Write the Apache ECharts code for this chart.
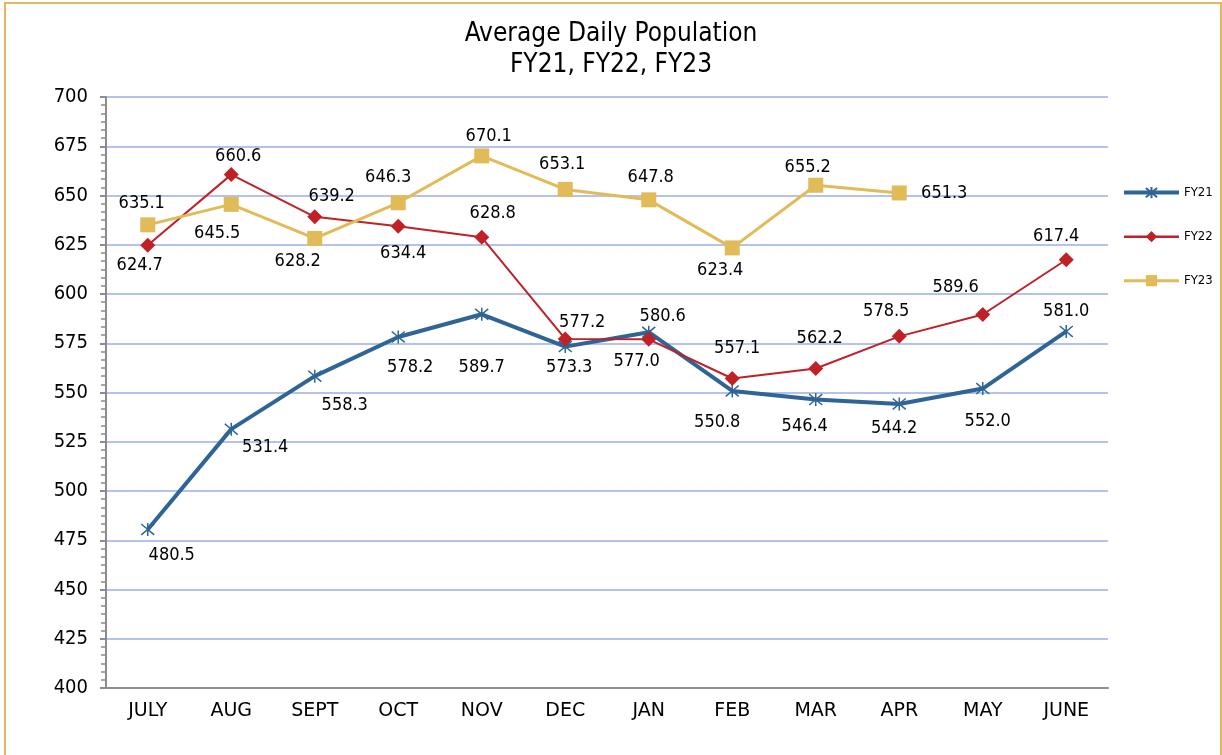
<!DOCTYPE html>
<html>
<head>
    <meta charset="utf-8">
    <title>Average Daily Population</title>
    <script src="https://cdn.jsdelivr.net/npm/echarts@6/dist/echarts.min.js"></script>
    <style>
        html, body { margin: 0; padding: 0; background: #fff; }
        #chart1 { width: 1222px; height: 755px; }
    </style>
</head>
<body>
<div id="chart1"></div>
<script type="text/javascript">
    // data
    var months = ['JULY', 'AUG', 'SEPT', 'OCT', 'NOV', 'DEC', 'JAN', 'FEB', 'MAR', 'APR', 'MAY', 'JUNE'];
    var fy21 = [480.5, 531.4, 558.3, 578.2, 589.7, 573.3, 580.6, 550.8, 546.4, 544.2, 552.0, 581.0];
    var fy22 = [624.7, 660.6, 639.2, 634.4, 628.8, 577.2, 577.0, 557.1, 562.2, 578.5, 589.6, 617.4];
    var fy23 = [635.1, 645.5, 628.2, 646.3, 670.1, 653.1, 647.8, 623.4, 655.2, 651.3, null, null];
    var yTicks = [400, 425, 450, 475, 500, 525, 550, 575, 600, 625, 650, 675, 700];

    // where each value label sits relative to its marker (px)
    var fy21Off = [[24, 26], [34, 18], [30, 29], [12, 30], [0, 53], [4, 21], [14, -16], [-15, 31], [-11, 27], [-5, 24], [5, 33], [0, -20]];
    var fy22Off = [[-8, 20], [7, -18], [17, -20], [5, 27], [11, -24], [17, -17], [-12, 22], [5, -30], [4, -30], [-13, -25], [-27, -27], [-10, -23]];
    var fy23Off = [[-6, -22], [-14, 29], [-17, 23], [-10, -25], [7, -20], [-3, -25], [2, -23], [-12, 22], [-8, -18], [45, 0], [0, 0], [0, 0]];

    var FONT = '"DejaVu Sans Condensed", "DejaVu Sans", sans-serif';

    function withLabels(values, offs) {
        return values.map(function (v, i) {
            return { value: v, label: { offset: offs[i] } };
        });
    }

    var labelStyle = {
        show: true,
        position: 'inside',
        color: '#000',
        fontFamily: FONT,
        fontSize: 18,
        formatter: function (p) { return p.value == null ? '' : Number(p.value).toFixed(1); }
    };

    var myChart1 = echarts.init(document.getElementById('chart1'));
    myChart1.setOption({
        animation: false,
        backgroundColor: '#fff',
        textStyle: { fontFamily: FONT },
        graphic: [{
            type: 'rect',
            shape: { x: 5, y: 3, width: 1216, height: 790 },
            style: { fill: 'none', stroke: '#E4B85A', lineWidth: 2 },
            silent: true
        }],
        title: {
            text: 'Average Daily Population\nFY21, FY22, FY23',
            left: 606,
            textAlign: 'center',
            top: 14,
            textStyle: { fontFamily: FONT, fontSize: 26, fontWeight: 'normal', color: '#000', lineHeight: 31 }
        },
        legend: {
            orient: 'vertical',
            left: 1117,
            top: 181,
            itemWidth: 55,
            itemHeight: 14,
            itemGap: 31,
            textStyle: { fontFamily: FONT, fontSize: 13, color: '#000' },
            data: [
                { name: 'FY21', lineStyle: { width: 4 } },
                { name: 'FY22', lineStyle: { width: 2.5 } },
                { name: 'FY23', lineStyle: { width: 3 } }
            ]
        },
        grid: { left: 106, top: 97, right: 114, bottom: 67 },
        xAxis: {
            type: 'category',
            data: months,
            boundaryGap: true,
            axisLine: { lineStyle: { color: '#8C8C8C', width: 2 } },
            axisTick: { alignWithLabel: true, length: 5, lineStyle: { color: '#8C8C8C', width: 2 } },
            axisLabel: { color: '#000', fontFamily: '"DejaVu Sans", sans-serif', fontSize: 19, margin: 14 }
        },
        yAxis: {
            type: 'value',
            min: yTicks[0],
            max: yTicks[yTicks.length - 1],
            interval: yTicks[1] - yTicks[0],
            axisLine: { show: true, lineStyle: { color: '#8C8C8C', width: 2 } },
            axisTick: { show: true, length: 6, lineStyle: { color: '#8C8C8C', width: 2 } },
            minorTick: { show: true, splitNumber: 6, length: 5, lineStyle: { color: '#8C8C8C', width: 1.5 } },
            splitLine: { show: true, lineStyle: { color: '#B4C3EC', width: 2 } },
            axisLabel: { color: '#000', fontFamily: FONT, fontSize: 20, margin: 18 }
        },
        series: [{
            name: 'FY21',
            type: 'line',
            data: withLabels(fy21, fy21Off),
            symbol: 'path://M0,0L10,10M10,0L0,10M5,-1L5,11',
            symbolSize: 13,
            lineStyle: { color: '#2E6596', width: 4 },
            itemStyle: { color: '#2E6596', borderColor: '#2E6596', borderWidth: 1.5 },
            label: labelStyle,
            z: 2
        }, {
            name: 'FY22',
            type: 'line',
            data: withLabels(fy22, fy22Off),
            symbol: 'diamond',
            symbolSize: 15,
            lineStyle: { color: '#BF2127', width: 2 },
            itemStyle: { color: '#BF2127' },
            label: labelStyle,
            z: 3
        }, {
            name: 'FY23',
            type: 'line',
            data: withLabels(fy23, fy23Off),
            symbol: 'rect',
            symbolSize: 15,
            lineStyle: { color: '#E1BB58', width: 3 },
            itemStyle: { color: '#E1BB58' },
            label: labelStyle,
            z: 4
        }]
    });
</script>
</body>
</html>
